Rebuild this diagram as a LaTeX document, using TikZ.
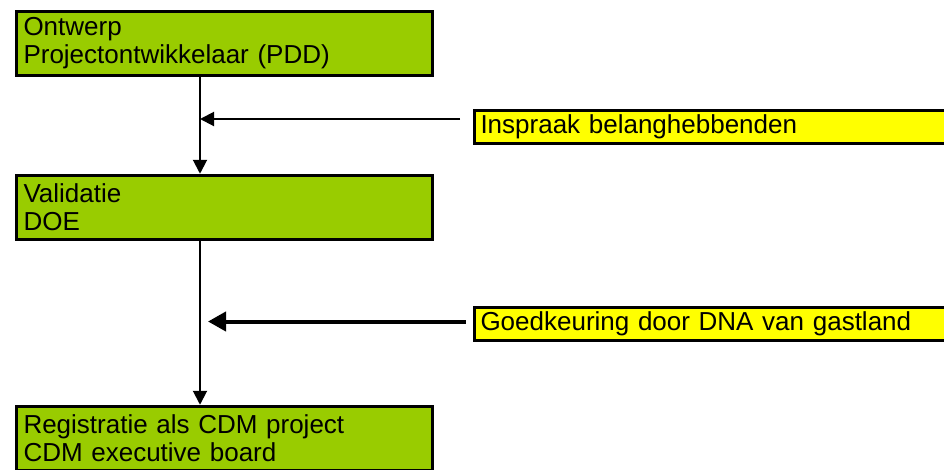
\documentclass[tikz,border=0pt]{standalone}
\usepackage{fontspec}
\setmainfont{Liberation Sans}
\usetikzlibrary{arrows.meta}
\definecolor{stagegreen}{RGB}{153,204,0}
\definecolor{noteyellow}{RGB}{255,255,0}

\begin{document}
\begin{tikzpicture}[x=1pt,y=-1pt,
  stage/.style={draw,line width=3.5pt,fill=stagegreen,anchor=north west,
    minimum width=416pt,minimum height=64pt,text width=402pt,align=left,
    inner xsep=7pt,font=\fontsize{26}{28}\selectfont},
  note/.style={draw,line width=3.5pt,fill=noteyellow,anchor=north west,
    minimum width=480pt,minimum height=33pt,text width=468pt,align=left,
    inner xsep=6pt,font=\fontsize{26}{28}\selectfont},
  flow/.style={line width=2pt,-{Triangle[length=14pt,width=14pt]}}]
  \useasboundingbox (0,0) rectangle (944,469);
  \node[stage] (ontwerp) at (14.75,9.75) {Ontwerp\\Projectontwikkelaar (PDD)};
  \node[stage] (validatie) at (14.75,173.75) {Validatie\\DOE};
  \node[stage] (registratie) at (14.75,404.75) {Registratie als CDM project\\CDM executive board};
  \node[note] (inspraak) at (472.75,108.75) {Inspraak belanghebbenden};
  \node[note] (goedkeuring) at (472.75,305.75) {Goedkeuring door DNA van gastland};
  \coordinate (spine) at (200,0);
  \draw[flow] (ontwerp.south -| spine) -- (validatie.north -| spine);
  \draw[flow] (validatie.south -| spine) -- (registratie.north -| spine);
  \draw[flow,shorten <=12.75pt] ([yshift=8pt]inspraak.west) -- ([yshift=8pt]inspraak.west -| spine);
  \draw[flow,line width=4pt,-{Triangle[length=18pt,width=19pt]},shorten <=7pt,shorten >=8pt]
    ([yshift=2.5pt]goedkeuring.west) -- ([yshift=2.5pt]goedkeuring.west -| spine);
\end{tikzpicture}
\end{document}
